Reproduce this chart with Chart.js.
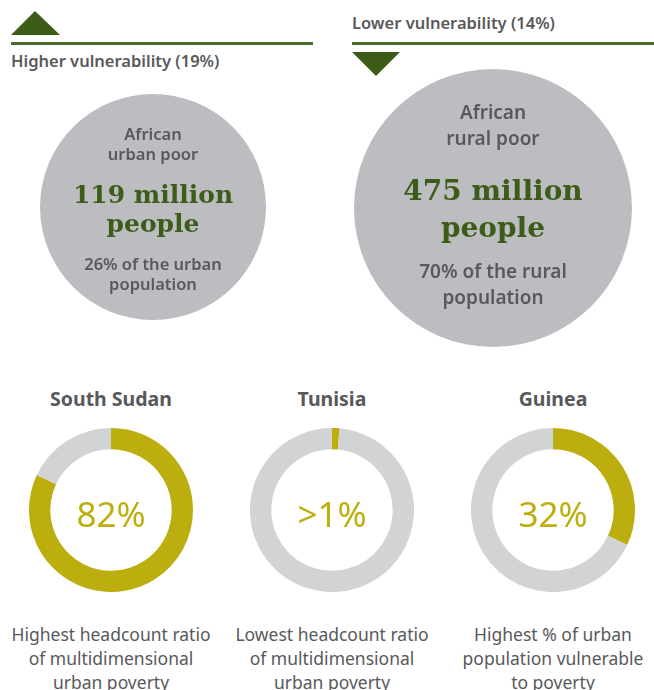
<!DOCTYPE html>
<html>
<head>
<meta charset="utf-8">
<script src="https://cdn.jsdelivr.net/npm/chart.js@4.4.1/dist/chart.umd.min.js"></script>
<style>
    body { margin: 0; background: #fff; }
    #wrap { position: relative; width: 654px; height: 690px; overflow: hidden; font-family: "Noto Sans", sans-serif; color: #58595b; }
    #wrap canvas { position: absolute; }
    .txt { position: absolute; text-align: center; white-space: nowrap; transform: translate(-50%, -50%); }
    .head { position: absolute; font-size: 16.5px; font-weight: 600; color: #58595b; white-space: nowrap; }
    .rule { position: absolute; height: 3px; background: #4b6b2b; }
    .big { font-family: "DejaVu Serif", serif; font-weight: bold; color: #3d5c19; }
    .title { font-size: 19.5px; font-weight: 700; }
    .pct { font-family: "Noto Sans", sans-serif; font-weight: 400; color: #bcae0f; font-size: 35px; }
    .cap { font-size: 17.5px; line-height: 24px; }
</style>
</head>
<body>
<div id="wrap">
    <svg style="position:absolute;left:0;top:0" width="654" height="90">
        <polygon points="11,35 35,11 60,35" fill="#3b5b17"/>
        <polygon points="352,52 400,52 376,76" fill="#3b5b17"/>
    </svg>
    <div class="rule" style="left:11px;top:42px;width:302px"></div>
    <div class="rule" style="left:352px;top:42px;width:302px"></div>
    <div class="head" id="head0" style="left:11px;top:49px"></div>
    <div class="head" id="head1" style="left:352px;top:11px"></div>

    <canvas id="poor0" width="226" height="226" style="left:40px;top:94px"></canvas>
    <canvas id="poor1" width="278" height="278" style="left:354px;top:69px"></canvas>

    <canvas id="share0" width="164" height="164" style="left:29px;top:428px"></canvas>
    <canvas id="share1" width="164" height="164" style="left:250px;top:428px"></canvas>
    <canvas id="share2" width="164" height="164" style="left:471px;top:428px"></canvas>
</div>

<script>
    // top part
    const vulnLabels = ['Higher vulnerability', 'Lower vulnerability'];
    const vulnValues = [19, 14];
    const poorGroups = [['African', 'urban poor'], ['African', 'rural poor']];
    const poorMillions = [119, 475];
    const poorShares = [26, 70];
    const poorAreas = ['urban', 'rural'];

    // bottom part
    const countries = ['South Sudan', 'Tunisia', 'Guinea'];
    const shareValues = [82, 1.5, 32];
    const shareLabels = ['82%', '>1%', '32%'];
    const captions = [
        ['Highest headcount ratio', 'of multidimensional', 'urban poverty'],
        ['Lowest headcount ratio', 'of multidimensional', 'urban poverty'],
        ['Highest % of urban', 'population vulnerable', 'to poverty']
    ];

    const gold = '#bcae0f';
    const ringGrey = '#d1d3d4';
    const circleGrey = '#bcbdc0';

    const wrap = document.getElementById('wrap');

    function addText(html, x, y, cls, style) {
        const el = document.createElement('div');
        el.className = 'txt ' + (cls || '');
        el.style.left = x + 'px';
        el.style.top = y + 'px';
        if (style) el.style.cssText += style;
        el.innerHTML = html;
        wrap.appendChild(el);
        return el;
    }

    const baseOptions = {
        responsive: false,
        animation: false,
        devicePixelRatio: 1,
        events: [],
        layout: {padding: 0},
        plugins: {legend: {display: false}, tooltip: {enabled: false}}
    };

    vulnLabels.forEach((label, i) => {
        document.getElementById('head' + i).textContent = label + ' (' + vulnValues[i] + '%)';
    });

    // grey circles
    poorMillions.forEach((value, i) => {
        new Chart(document.getElementById('poor' + i), {
            type: 'pie',
            data: {
                labels: [poorGroups[i].join(' ')],
                datasets: [{data: [value], backgroundColor: [circleGrey], borderWidth: 0, hoverOffset: 0}]
            },
            options: baseOptions
        });
    });

    // circle texts
    const pc = [
        {x: 153, lines: [133, 153], big: [194, 223], small: [263, 283], fs: 16.5, bfs: 25},
        {x: 493, lines: [112, 138], big: [190, 227], small: [271, 297], fs: 19, bfs: 28}
    ];
    pc.forEach((p, i) => {
        addText(poorGroups[i][0], p.x, p.lines[0], '', 'font-size:' + p.fs + 'px;font-weight:600');
        addText(poorGroups[i][1], p.x, p.lines[1], '', 'font-size:' + p.fs + 'px;font-weight:600');
        addText(poorMillions[i] + ' million', p.x, p.big[0], 'big', 'font-size:' + p.bfs + 'px');
        addText('people', p.x, p.big[1], 'big', 'font-size:' + p.bfs + 'px');
        addText(poorShares[i] + '% of the ' + poorAreas[i], p.x, p.small[0], '', 'font-size:' + p.fs + 'px;font-weight:600');
        addText('population', p.x, p.small[1], '', 'font-size:' + p.fs + 'px;font-weight:600');
    });

    // doughnuts
    const centers = [111, 332, 553];
    countries.forEach((name, i) => {
        new Chart(document.getElementById('share' + i), {
            type: 'doughnut',
            data: {
                labels: [name, 'Other'],
                datasets: [{
                    data: [shareValues[i], 100 - shareValues[i]],
                    backgroundColor: [gold, ringGrey],
                    borderWidth: 0,
                    hoverOffset: 0
                }]
            },
            options: Object.assign({}, baseOptions, {cutout: '74%'})
        });
        addText(name, centers[i], 398, 'title');
        addText(shareLabels[i], centers[i], 513, 'pct');
        addText(captions[i].join('<br>'), centers[i], 658, 'cap');
    });
</script>
</body>
</html>
